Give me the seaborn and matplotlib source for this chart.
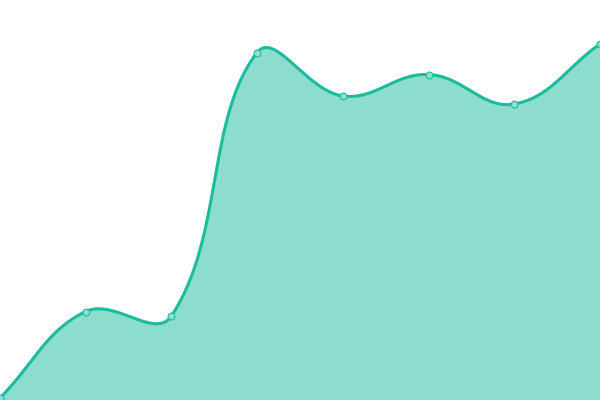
import numpy as np
import pandas as pd
import matplotlib
matplotlib.use("Agg")
import matplotlib.pyplot as plt
import seaborn as sns

# data (x index, value on a 0..400 scale)
steps = [0, 1, 2, 3, 4, 5, 6, 7]
values = [2, 88.5, 84, 347.5, 304, 325.5, 296, 356]

LINE = "#1abc9c"
TENSION = 0.4


def smooth(ax, xs, ys, n=60, t=TENSION):
  # spline with control points set in screen space, drawing only
  p = ax.transData.transform(np.column_stack([xs, ys]).astype(float))
  k = len(p)
  cin = p.copy()
  cout = p.copy()
  for i in range(k):
    prev = p[i - 1] if i > 0 else p[i]
    nxt = p[i + 1] if i < k - 1 else p[i]
    d01 = np.hypot(*(p[i] - prev))
    d12 = np.hypot(*(nxt - p[i]))
    tot = d01 + d12
    fa = t * d01 / tot if tot else 0
    fb = t * d12 / tot if tot else 0
    cin[i] = p[i] - fa * (nxt - prev)
    cout[i] = p[i] + fb * (nxt - prev)
  u = np.linspace(0, 1, n)[:, None]
  segs = []
  for i in range(k - 1):
    seg = ((1 - u) ** 3 * p[i] + 3 * (1 - u) ** 2 * u * cout[i]
           + 3 * (1 - u) * u ** 2 * cin[i + 1] + u ** 3 * p[i + 1])
    segs.append(seg if i == 0 else seg[1:])
  pts = ax.transData.inverted().transform(np.vstack(segs))
  return pd.DataFrame({"x": pts[:, 0], "y": pts[:, 1]})


df = pd.DataFrame({"x": steps, "y": values})

sns.set_style("white")
fig = plt.figure(figsize=(6, 4), dpi=100)
ax = fig.add_axes([0, 0, 1, 1])
ax.set_xlim(0, 7)
ax.set_ylim(0, 400)
ax.axis("off")

curve = smooth(ax, df["x"], df["y"])

ax.fill_between(curve["x"], curve["y"], 0, color=LINE, alpha=0.5, linewidth=0)
sns.lineplot(data=curve, x="x", y="y", sort=False, color=LINE, linewidth=2.2, ax=ax)
sns.scatterplot(data=df, x="x", y="y", s=24, color="#8be0d0", edgecolor=LINE,
                linewidth=0.8, zorder=5, clip_on=False, ax=ax)

ax.set_xlim(0, 7)
ax.set_ylim(0, 400)

fig.savefig("out.png", dpi=100)
